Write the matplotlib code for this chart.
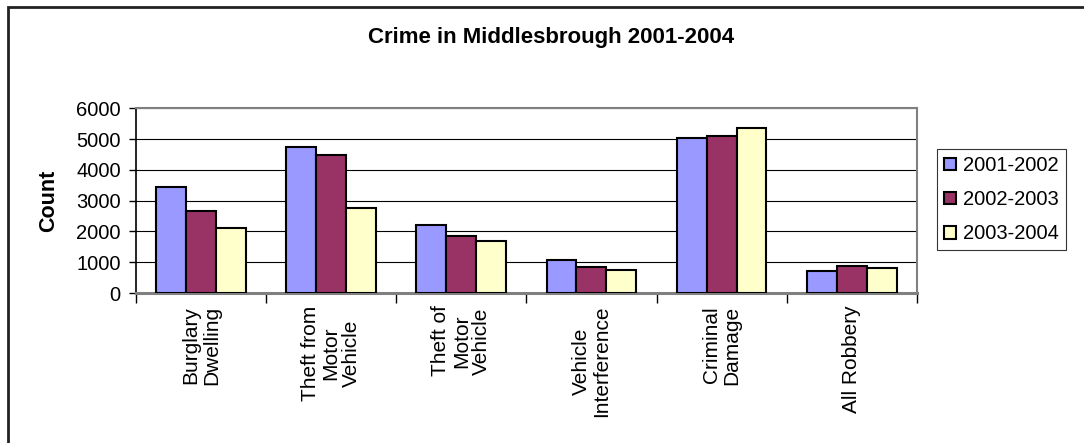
import numpy as np
import matplotlib
matplotlib.use("Agg")
import matplotlib.pyplot as plt
from matplotlib.patches import Rectangle

#-----DATA-----
categories = [
    "Burglary\nDwelling",
    "Theft from\nMotor\nVehicle",
    "Theft of\nMotor\nVehicle",
    "Vehicle\nInterference",
    "Criminal\nDamage",
    "All Robbery",
]
series_names = ["2001-2002", "2002-2003", "2003-2004"]
counts_2001 = [3450, 4740, 2210, 1070, 5020, 710]
counts_2002 = [2650, 4480, 1850, 840, 5090, 880]
counts_2003 = [2100, 2750, 1690, 740, 5370, 800]
colors = ["#9999FF", "#993366", "#FFFFCC"]
y_ticks = [0, 1000, 2000, 3000, 4000, 5000, 6000]
#--------------

plt.rcParams['font.family'] = ['Liberation Sans', 'DejaVu Sans']

fig = plt.figure(figsize=(10.84, 4.43), dpi=100)
ax = fig.add_axes([0.1255, 0.3386, 0.7202, 0.4169])

# outer chart border (right/bottom edges run off the image)
fig.patches.append(Rectangle((8 / 1084, -0.05), 1.2, (443 - 7) / 443 + 0.05,
                             transform=fig.transFigure, fill=False,
                             edgecolor="#222222", linewidth=2))

x = np.arange(len(categories))
width = 0.23
all_series = [counts_2001, counts_2002, counts_2003]
for i, (vals, name, col) in enumerate(zip(all_series, series_names, colors)):
    ax.bar(x + (i - 1) * width, vals, width, color=col, edgecolor="black",
           linewidth=1.5, label=name, zorder=3)

ax.set_xlim(-0.5, len(categories) - 0.5)
ax.set_ylim(0, 6000)
ax.set_yticks(y_ticks)
ax.set_yticklabels([str(v) for v in y_ticks], fontsize=14.5)
ax.yaxis.grid(True, color="black", linewidth=0.8, zorder=0)
ax.tick_params(axis="y", direction="out", length=5, width=1, pad=6)

# category labels at centres, ticks at boundaries
ax.set_xticks(x)
ax.set_xticklabels(categories, rotation=90, fontsize=15, va="top", ha="center",
                   multialignment="center", linespacing=1.1)
ax.tick_params(axis="x", which="major", length=0, pad=9)
ax.set_xticks(np.arange(-0.5, len(categories), 1.0), minor=True)
ax.tick_params(axis="x", which="minor", direction="out", length=7, width=1)

for side in ["top", "right"]:
    ax.spines[side].set_color("#808080")
    ax.spines[side].set_linewidth(1.5)
ax.spines["left"].set_color("black")
ax.spines["left"].set_linewidth(1.2)
ax.spines["bottom"].set_color("#808080")
ax.spines["bottom"].set_linewidth(2.2)

ax.set_ylabel("Count", fontsize=15.5, fontweight="bold", labelpad=12)
fig.text(551 / 1084, 1 - 37 / 443, "Crime in Middlesbrough 2001-2004",
         ha="center", va="center", fontsize=16, fontweight="bold")

leg = fig.legend(loc="upper left", bbox_to_anchor=(937 / 1084, 1 - 149 / 443),
                 fontsize=14.5, frameon=True, fancybox=False, edgecolor="black",
                 handlelength=0.6, handleheight=0.6, handletextpad=0.35,
                 labelspacing=0.75, borderpad=0.35, borderaxespad=0)
leg.get_frame().set_linewidth(0.8)

fig.savefig("out.png", dpi=100, facecolor="white")
